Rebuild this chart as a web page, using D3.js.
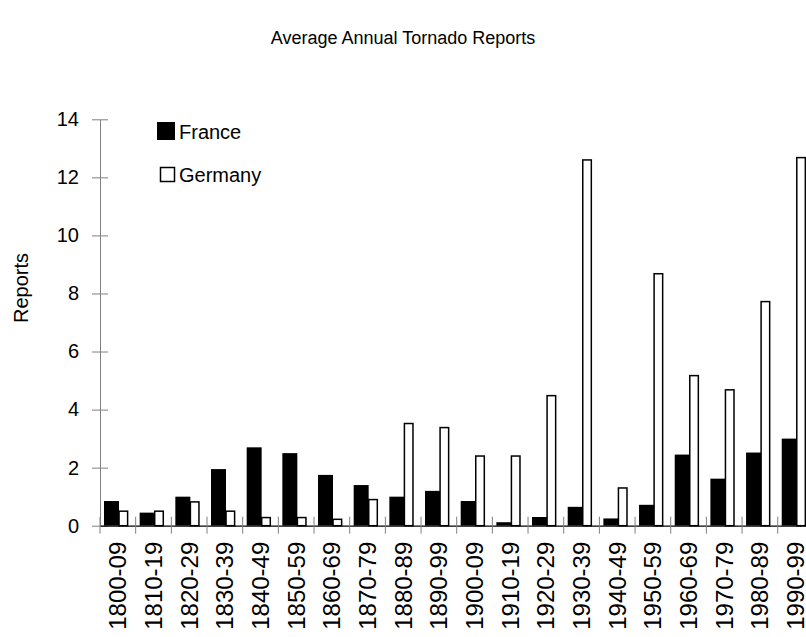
<!DOCTYPE html>
<html>
<head>
<meta charset="utf-8">
<script src="https://cdn.jsdelivr.net/npm/d3@7"></script>
<style>
  body { margin: 0; background: #fff; }
  svg { display: block; font-family: "Liberation Sans", Arial, sans-serif; }
</style>
</head>
<body>
<div id="chart"></div>
<script>
// Decades and the two series (average reports per year)
const decades = ["1800-09", "1810-19", "1820-29", "1830-39", "1840-49", "1850-59", "1860-69",
                 "1870-79", "1880-89", "1890-99", "1900-09", "1910-19", "1920-29", "1930-39",
                 "1940-49", "1950-59", "1960-69", "1970-79", "1980-89", "1990-99"];
const france  = [0.85, 0.45, 1.0, 1.95, 2.7, 2.5, 1.75, 1.4, 1.0, 1.2,
                 0.85, 0.12, 0.3, 0.65, 0.25, 0.72, 2.45, 1.62, 2.52, 3.0];
const germany = [0.5, 0.5, 0.82, 0.5, 0.28, 0.28, 0.22, 0.9, 3.52, 3.38,
                 2.4, 2.4, 4.48, 12.6, 1.3, 8.68, 5.17, 4.68, 7.72, 12.68];
const yTicks = [0, 2, 4, 6, 8, 10, 12, 14];

const width = 806, height = 637;
const svg = d3.select("#chart").append("svg")
              .attr("width", width)
              .attr("height", height);

// Scales
const x = d3.scaleBand()
            .domain(decades)
            .range([100, 100 + 20 * 35.67]);
const y = d3.scaleLinear()
            .domain([0, 14])
            .range([525.7, 119.3]);

// Title
svg.append("text")
   .attr("x", 403)
   .attr("y", 44)
   .attr("text-anchor", "middle")
   .style("font-size", "18px")
   .text("Average Annual Tornado Reports");

// Y axis
const yAxis = svg.append("g")
   .attr("transform", "translate(100,0)")
   .call(d3.axisLeft(y).tickValues(yTicks).tickSize(0).tickPadding(21).tickFormat(d3.format("d")));
yAxis.select(".domain").attr("stroke", "#808080");
yAxis.selectAll("text").style("font-size", "20px").attr("fill", "#000");
yAxis.selectAll(".tick").append("line")
     .attr("x1", -8).attr("x2", 8)
     .attr("stroke", "#808080");

// Y axis title
svg.append("text")
   .attr("transform", "translate(28,288) rotate(-90)")
   .attr("text-anchor", "middle")
   .style("font-size", "20px")
   .text("Reports");

// Bars
const bw = x.bandwidth();
svg.append("g").selectAll("rect")
   .data(decades)
   .join("rect")
   .attr("x", d => x(d) + bw * 0.112)
   .attr("y", (d, i) => y(france[i]))
   .attr("width", bw * 0.42)
   .attr("height", (d, i) => y(0) - y(france[i]))
   .attr("fill", "#000");

svg.append("g").selectAll("rect")
   .data(decades)
   .join("rect")
   .attr("x", d => x(d) + bw * 0.534)
   .attr("y", (d, i) => y(germany[i]))
   .attr("width", bw * 0.24)
   .attr("height", (d, i) => y(0) - y(germany[i]))
   .attr("fill", "#fff")
   .attr("stroke", "#000")
   .attr("stroke-width", 1.5);

// X axis
const xAxis = svg.append("g")
   .attr("transform", `translate(0,${y(0)})`)
   .call(d3.axisBottom(x).tickSize(0).tickPadding(0));
xAxis.select(".domain").attr("stroke", "#000").attr("stroke-width", 1.2);
xAxis.selectAll(".tick line").remove();
xAxis.selectAll("text")
     .style("font-size", "24px")
     .attr("fill", "#000")
     .attr("transform", "translate(0,16) rotate(-90)")
     .attr("text-anchor", "end")
     .attr("dy", "0.35em")
     .attr("y", 0)
     .attr("x", 0);
// category boundary ticks
svg.append("g").selectAll("line")
   .data(decades)
   .join("line")
   .attr("x1", d => x(d)).attr("x2", d => x(d))
   .attr("y1", y(0) - 9).attr("y2", y(0) + 8)
   .attr("stroke", "#808080");

// Legend
const legend = svg.append("g");
legend.append("rect")
      .attr("x", 157).attr("y", 122).attr("width", 18).attr("height", 18)
      .attr("fill", "#000");
legend.append("text")
      .attr("x", 179).attr("y", 139)
      .style("font-size", "20px")
      .text("France");
legend.append("rect")
      .attr("x", 160.5).attr("y", 167.5).attr("width", 14).attr("height", 14)
      .attr("fill", "#fff").attr("stroke", "#000").attr("stroke-width", 1.5);
legend.append("text")
      .attr("x", 179).attr("y", 182)
      .style("font-size", "20px")
      .text("Germany");
</script>
</body>
</html>
